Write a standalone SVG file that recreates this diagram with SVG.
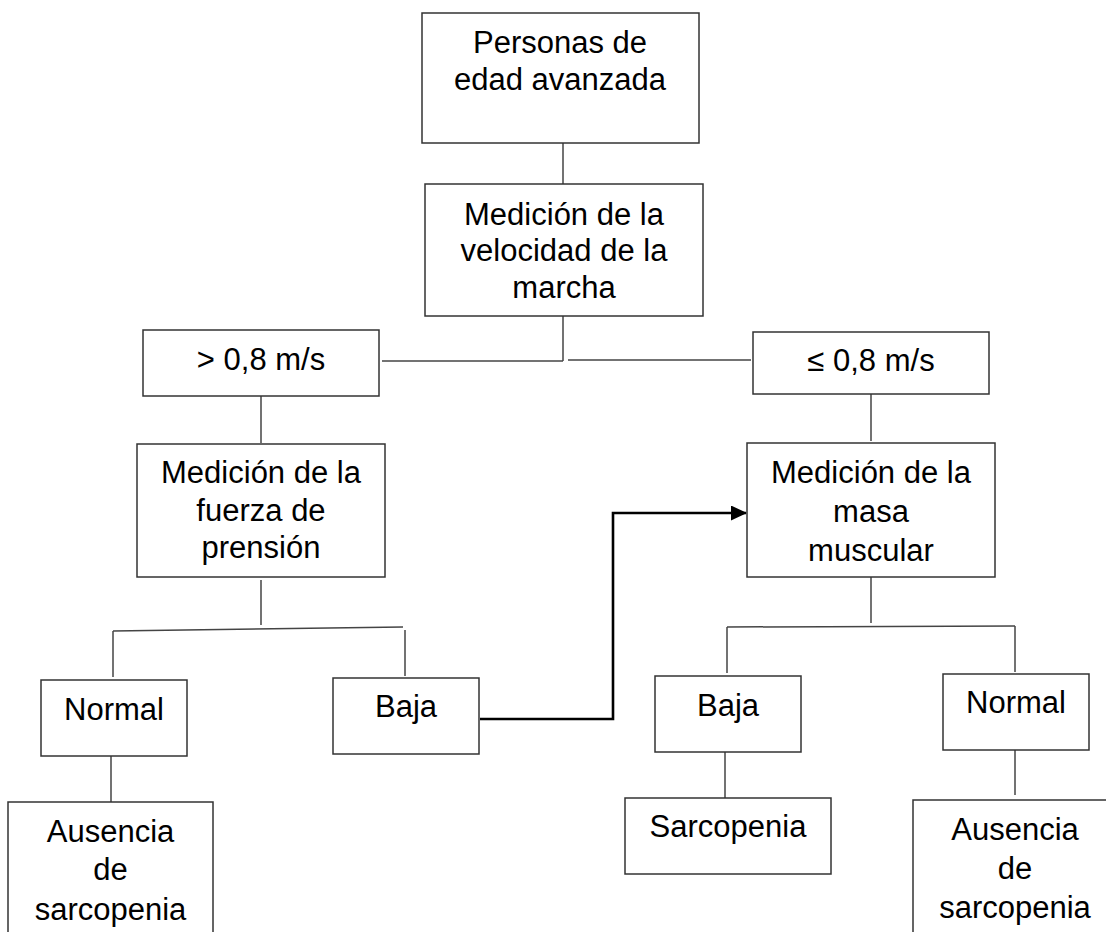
<svg xmlns="http://www.w3.org/2000/svg" width="1106" height="932" viewBox="0 0 1106 932">
<style>
.box{fill:#fff;stroke:#333;stroke-width:1.5}
.t{font-family:"Liberation Sans",Arial,sans-serif;font-size:31px;fill:#000;text-anchor:middle}
.c{fill:none;stroke:#444;stroke-width:1.5}
.a{fill:none;stroke:#000;stroke-width:2.6}
</style>
<defs>
<marker id="arr" markerWidth="16" markerHeight="16" refX="15" refY="7.5" orient="auto" markerUnits="userSpaceOnUse">
<path d="M0,0 L16,7.5 L0,15 Z" fill="#000"/>
</marker>
</defs>
<rect width="1106" height="932" fill="#fff"/>
<g id="connectors">
<line class="c" x1="563" y1="137" x2="563" y2="184"/>
<line class="c" x1="563" y1="316" x2="563" y2="361"/>
<line class="c" x1="382" y1="361" x2="563" y2="361"/>
<line class="c" x1="568" y1="360" x2="751" y2="360"/>
<line class="c" x1="261" y1="396" x2="261" y2="443"/>
<line class="c" x1="261" y1="580" x2="261" y2="625"/>
<line class="c" x1="113" y1="631" x2="403" y2="627"/>
<line class="c" x1="113" y1="631" x2="113" y2="677"/>
<line class="c" x1="405" y1="630" x2="405" y2="676"/>
<line class="c" x1="111" y1="756" x2="111" y2="802"/>
<line class="c" x1="871" y1="394" x2="871" y2="441"/>
<line class="c" x1="871" y1="577" x2="871" y2="623"/>
<line class="c" x1="727" y1="627" x2="1015" y2="626"/>
<line class="c" x1="727" y1="627" x2="727" y2="673"/>
<line class="c" x1="1015" y1="626" x2="1015" y2="672"/>
<line class="c" x1="725" y1="752" x2="725" y2="798"/>
<line class="c" x1="1015" y1="750" x2="1015" y2="795"/>
<path class="a" d="M480,719 H613 V513 H746" marker-end="url(#arr)"/>
</g>
<g id="n-personas">
<rect class="box" x="422" y="13" width="277" height="130"/>
<text class="t" x="560" y="53">Personas de</text>
<text class="t" x="560" y="90">edad avanzada</text>
</g>
<g id="n-velocidad">
<rect class="box" x="425" y="184" width="278" height="132"/>
<text class="t" x="564" y="225">Medición de la</text>
<text class="t" x="564" y="261">velocidad de la</text>
<text class="t" x="564" y="298">marcha</text>
</g>
<g id="n-mayor">
<rect class="box" x="143" y="330" width="236" height="66"/>
<text class="t" x="261" y="370">&gt; 0,8 m/s</text>
</g>
<g id="n-menor">
<rect class="box" x="753" y="332" width="236" height="62"/>
<text class="t" x="871" y="371">≤ 0,8 m/s</text>
</g>
<g id="n-fuerza">
<rect class="box" x="137" y="444" width="248" height="133"/>
<text class="t" x="261" y="483">Medición de la</text>
<text class="t" x="261" y="521">fuerza de</text>
<text class="t" x="261" y="558">prensión</text>
</g>
<g id="n-masa">
<rect class="box" x="747" y="443" width="248" height="134"/>
<text class="t" x="871" y="483">Medición de la</text>
<text class="t" x="871" y="522">masa</text>
<text class="t" x="871" y="561">muscular</text>
</g>
<g id="n-normal-l">
<rect class="box" x="41" y="680" width="146" height="76"/>
<text class="t" x="114" y="720">Normal</text>
</g>
<g id="n-baja-l">
<rect class="box" x="333" y="678" width="146" height="76"/>
<text class="t" x="406" y="717">Baja</text>
</g>
<g id="n-baja-r">
<rect class="box" x="655" y="676" width="146" height="76"/>
<text class="t" x="728" y="716">Baja</text>
</g>
<g id="n-normal-r">
<rect class="box" x="943" y="674" width="146" height="76"/>
<text class="t" x="1016" y="713">Normal</text>
</g>
<g id="n-ausencia-l">
<rect class="box" x="8" y="802" width="205" height="150"/>
<text class="t" x="110.5" y="842">Ausencia</text>
<text class="t" x="110.5" y="880">de</text>
<text class="t" x="110.5" y="920">sarcopenia</text>
</g>
<g id="n-sarcopenia">
<rect class="box" x="625" y="798" width="206" height="76"/>
<text class="t" x="728" y="837">Sarcopenia</text>
</g>
<g id="n-ausencia-r">
<rect class="box" x="913" y="800" width="210" height="150"/>
<text class="t" x="1015" y="840">Ausencia</text>
<text class="t" x="1015" y="879">de</text>
<text class="t" x="1015" y="918">sarcopenia</text>
</g>
</svg>
